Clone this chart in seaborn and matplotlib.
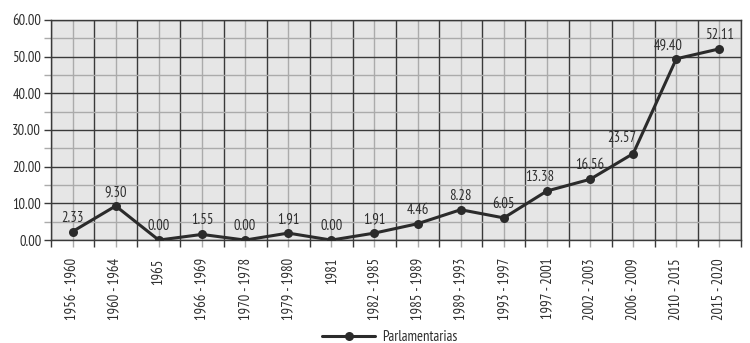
import numpy as np
import pandas as pd
import matplotlib
matplotlib.use("Agg")
import matplotlib.pyplot as plt
import seaborn as sns
from matplotlib.ticker import MultipleLocator, FixedLocator

periods = ["1956 - 1960", "1960 - 1964", "1965", "1966 - 1969", "1970 - 1978",
           "1979 - 1980", "1981", "1982 - 1985", "1985 - 1989", "1989 - 1993",
           "1993 - 1997", "1997 - 2001", "2002 - 2003", "2006 - 2009",
           "2010 - 2015", "2015 - 2020"]
values = [2.33, 9.30, 0.00, 1.55, 0.00, 1.91, 0.00, 1.91, 4.46, 8.28,
          6.05, 13.38, 16.56, 23.57, 49.40, 52.11]
series_name = "Parlamentarias"
y_ticks = [0, 10, 20, 30, 40, 50, 60]

sns.set_theme(style="white")
plt.rcParams["font.family"] = ["PT Sans Narrow", "DejaVu Sans"]
text_col = "#2e2e2e"
line_col = "#2b2b2b"
fs = 10.5

df = pd.DataFrame({"Periodo": periods, "Valor": values,
                   "Serie": [series_name] * len(periods)})

fig = plt.figure(figsize=(7.5, 3.43), dpi=100)
ax = fig.add_axes([0.068, 0.300, 0.920, 0.642])
ax.set_facecolor("#e6e6e6")

sns.lineplot(data=df, x="Periodo", y="Valor", hue="Serie",
             palette=[line_col], marker="o", markersize=6.5,
             markeredgewidth=0, linewidth=2.2, ax=ax, sort=False, zorder=5)

n = len(periods)
ax.set_xlim(-0.5, n - 0.5)
ax.set_ylim(0, 60)

# y axis: labelled major lines every 10, light minor lines every 5
ax.yaxis.set_major_locator(FixedLocator(y_ticks))
ax.yaxis.set_minor_locator(MultipleLocator(5))
ax.set_yticklabels([f"{v:.2f}" for v in y_ticks])

# x axis: labels at category centres, dark separators between categories
ax.set_xticks(range(n))
ax.set_xticklabels(periods, rotation=90)
ax.xaxis.set_minor_locator(FixedLocator(np.arange(-0.5, n, 1.0)))

ax.grid(False)
ax.yaxis.grid(True, which="major", color="#3a3a3a", linewidth=1.0, zorder=1)
ax.yaxis.grid(True, which="minor", color="#ababab", linewidth=1.0, zorder=0)
ax.xaxis.grid(True, which="major", color="#ababab", linewidth=1.0, zorder=0)
ax.xaxis.grid(True, which="minor", color="#3a3a3a", linewidth=1.0, zorder=1)
ax.set_axisbelow(True)

ax.tick_params(axis="y", which="major", direction="out", length=5, width=1,
               color="#3a3a3a", labelsize=fs, labelcolor=text_col, pad=2, left=True)
ax.tick_params(axis="y", which="minor", direction="out", length=5, width=1,
               color="#ababab", left=True)
ax.tick_params(axis="x", which="major", direction="out", length=5, width=1,
               color="#ababab", labelsize=fs, labelcolor=text_col, pad=8, bottom=True)
ax.tick_params(axis="x", which="minor", direction="out", length=5, width=1,
               color="#3a3a3a", bottom=True)

for s in ax.spines.values():
    s.set_visible(True)
    s.set_color("#3a3a3a")
    s.set_linewidth(1.0)

ax.set_xlabel("")
ax.set_ylabel("")

# value labels above each point
x_shift = {11: -5, 13: -8, 14: -6}
y_shift = {13: 1}
for i, v in enumerate(values):
    ax.annotate(f"{v:.2f}", (i, v), xytext=(x_shift.get(i, 0), 5 + y_shift.get(i, 0)),
                textcoords="offset points", ha="center", va="bottom",
                fontsize=fs, color=text_col, zorder=6)

handles, labels = ax.get_legend_handles_labels()
ax.get_legend().remove()
fig.legend(handles, labels, loc="center", bbox_to_anchor=(0.52, 0.018),
           frameon=False, fontsize=fs, handlelength=3.6, handletextpad=0.5,
           labelcolor=text_col, borderpad=0, borderaxespad=0)

fig.savefig("out.png", dpi=100)
